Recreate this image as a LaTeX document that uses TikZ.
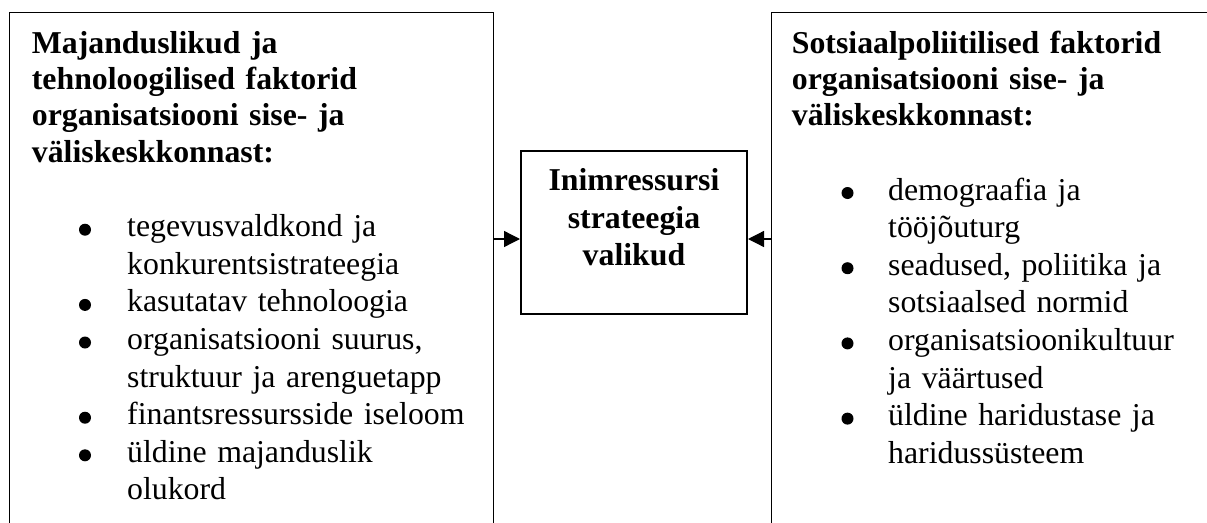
\documentclass[tikz,border=0pt]{standalone}
\usepackage{fontspec}
\setmainfont{Liberation Serif}
\usetikzlibrary{arrows.meta}

\tikzset{
  sidebox/.style={draw, line width=1.2pt, inner sep=0pt, anchor=north west},
  centerbox/.style={draw, line width=2pt, inner sep=0pt, minimum width=226pt, minimum height=163pt},
  headtext/.style={inner sep=0pt, anchor=base west, text width=440pt, align=left,
    font=\fontsize{31.8}{36.4}\selectfont\bfseries},
  itemtext/.style={inner sep=0pt, anchor=base west, text width=400pt, align=left,
    font=\fontsize{31.8}{37.6}\selectfont},
  midtext/.style={inner sep=0pt, anchor=base, text width=220pt, align=center,
    font=\fontsize{31.8}{37.5}\selectfont\bfseries},
  bul/.style={circle, fill, inner sep=0pt, minimum size=12pt},
  arr/.style={line width=1.3pt, -{Triangle[length=16pt,width=16pt]}}
}

\begin{document}
\begin{tikzpicture}[x=1pt,y=-1pt]
\useasboundingbox (0,0) rectangle (1207,522);
\clip (0,0) rectangle (1207,522);

% frames (both side frames run past the lower and right edges)
\node[sidebox, minimum width=484pt, minimum height=560pt] (lbox) at (9,12) {};
\node[sidebox, minimum width=470pt, minimum height=560pt] (rbox) at (771,12) {};
\node[centerbox] (cbox) at (634,232.5) {};

% left frame
\node[headtext] (lhead) at (31.7,53)
  {Majanduslikud ja\\tehnoloogilised faktorid\\organisatsiooni sise- ja\\väliskeskkonnast:};
\node[bul] (lb1) at (85,229.7) {};
\node[itemtext] (li1) at (127,236.7) {tegevusvaldkond ja\\konkurentsistrateegia};
\node[bul] (lb2) at (85,304.9) {};
\node[itemtext] (li2) at (127,311.9) {kasutatav tehnoloogia};
\node[bul] (lb3) at (85,342.5) {};
\node[itemtext] (li3) at (127,349.5) {organisatsiooni suurus,\\struktuur ja arenguetapp};
\node[bul] (lb4) at (85,417.7) {};
\node[itemtext] (li4) at (127,424.7) {finantsressursside iseloom};
\node[bul] (lb5) at (85,455.3) {};
\node[itemtext] (li5) at (127,462.3) {üldine majanduslik\\olukord};

% right frame
\node[headtext] (rhead) at (791.7,53)
  {Sotsiaalpoliitilised faktorid\\organisatsiooni sise- ja\\väliskeskkonnast:};
\node[bul] (rb1) at (847.5,193) {};
\node[itemtext] (ri1) at (888,200) {demograafia ja\\tööjõuturg};
\node[bul] (rb2) at (847.5,268.2) {};
\node[itemtext] (ri2) at (888,275.2) {seadused, poliitika ja\\sotsiaalsed normid};
\node[bul] (rb3) at (847.5,343.4) {};
\node[itemtext] (ri3) at (888,350.4) {organisatsioonikultuur\\ja väärtused};
\node[bul] (rb4) at (847.5,418.6) {};
\node[itemtext] (ri4) at (888,425.6) {üldine haridustase ja\\haridussüsteem};

% centre box
\node[midtext] (mid) at (634,190.7) {Inimressursi\\strateegia\\valikud};

% connectors
\coordinate (ay) at (0,239);
\draw[arr] (lbox.east |- ay) -- (cbox.west |- ay);
\draw[arr] (rbox.west |- ay) -- (cbox.east |- ay);
\end{tikzpicture}
\end{document}
